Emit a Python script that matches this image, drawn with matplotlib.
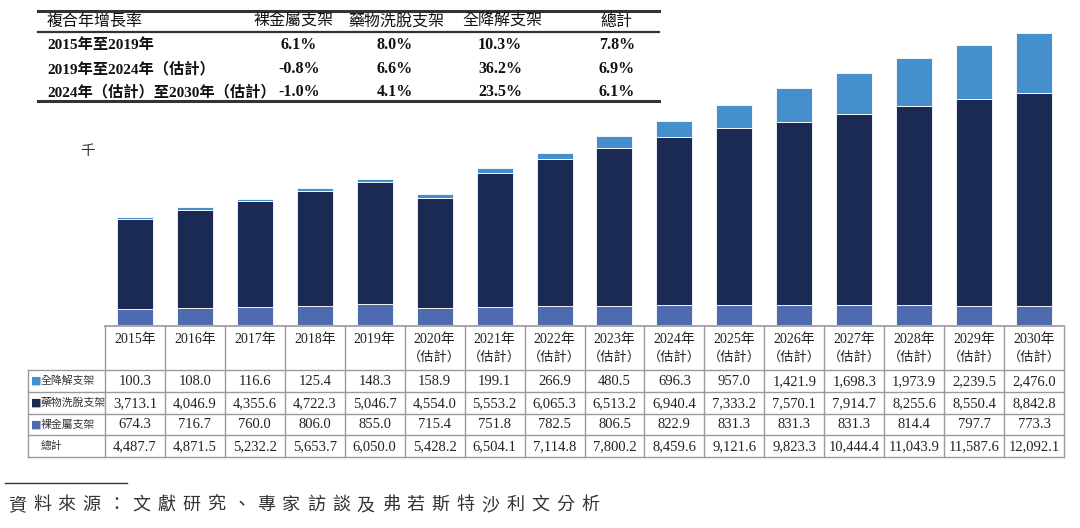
import matplotlib
matplotlib.use("Agg")
import matplotlib.pyplot as plt

# ---------------- data ----------------
years = ["2015年", "2016年", "2017年", "2018年", "2019年", "2020年", "2021年", "2022年",
         "2023年", "2024年", "2025年", "2026年", "2027年", "2028年", "2029年", "2030年"]
estimated = [False] * 5 + [True] * 11
bioresorbable = [100.3, 108.0, 116.6, 125.4, 148.3, 158.9, 199.1, 266.9,
                 480.5, 696.3, 957.0, 1421.9, 1698.3, 1973.9, 2239.5, 2476.0]
drug_eluting = [3713.1, 4046.9, 4355.6, 4722.3, 5046.7, 4554.0, 5553.2, 6065.3,
                6513.2, 6940.4, 7333.2, 7570.1, 7914.7, 8255.6, 8550.4, 8842.8]
bare_metal = [674.3, 716.7, 760.0, 806.0, 855.0, 715.4, 751.8, 782.5,
              806.5, 822.9, 831.3, 831.3, 831.3, 814.4, 797.7, 773.3]
totals = [4487.7, 4871.5, 5232.2, 5653.7, 6050.0, 5428.2, 6504.1, 7114.8,
          7800.2, 8459.6, 9121.6, 9823.3, 10444.4, 11043.9, 11587.6, 12092.1]
series_names = ["全降解支架", "藥物洗脫支架", "裸金屬支架"]
total_name = "總計"

cagr_header = ["複合年增長率", "裸金屬支架", "藥物洗脫支架", "全降解支架", "總計"]
cagr_periods = ["2015年至2019年", "2019年至2024年（估計）", "2024年（估計）至2030年（估計）"]
cagr_bare = ["6.1%", "-0.8%", "-1.0%"]
cagr_drug = ["8.0%", "6.6%", "4.1%"]
cagr_bio = ["10.3%", "36.2%", "23.5%"]
cagr_total = ["7.8%", "6.9%", "6.1%"]

unit_label = "千"
source_text = "資料來源：文獻研究、專家訪談及弗若斯特沙利文分析"

# ---------------- style ----------------
C_BIO = "#458FCC"
C_DRUG = "#1B2A52"
C_BARE = "#4F6BAF"
FAM = ["Liberation Serif", "Noto Sans CJK TC"]
CJK = ["Noto Sans CJK TC", "DejaVu Sans"]
plt.rcParams["font.family"] = FAM

W, H = 1080, 528
fig = plt.figure(figsize=(W / 100, H / 100), dpi=100)

# pixel geometry
tab_left, tab_right = 105, 1064
lab_left = 28
bar_bottom_px, bar_top_px = 325, 20
px_per_unit = (325 - 32.7) / 12092.1

ax = fig.add_axes([tab_left / W, (H - bar_bottom_px) / H,
                   (tab_right - tab_left) / W, (bar_bottom_px - bar_top_px) / H])
x = list(range(len(years)))
ax.bar(x, bare_metal, width=0.6, color=C_BARE, edgecolor="white", linewidth=0.6)
b2 = [a for a in bare_metal]
ax.bar(x, drug_eluting, width=0.6, bottom=b2, color=C_DRUG, edgecolor="white", linewidth=0.6)
b3 = [a + b for a, b in zip(bare_metal, drug_eluting)]
ax.bar(x, bioresorbable, width=0.6, bottom=b3, color=C_BIO, edgecolor="white", linewidth=0.6)
ax.set_xlim(-0.5, len(years) - 0.5)
ax.set_ylim(0, (bar_bottom_px - bar_top_px) / px_per_unit)
ax.axis("off")

# overlay in pixel coordinates
ov = fig.add_axes([0, 0, 1, 1])
ov.set_xlim(0, W)
ov.set_ylim(H, 0)
ov.axis("off")
ov.patch.set_alpha(0)

grid_c = "#9a9a9a"
col_w = (tab_right - tab_left) / len(years)
edges = [tab_left + i * col_w for i in range(len(years) + 1)]
hdr_top, hdr_bot = 326, 370
row_lines = [370, 392, 413.5, 435, 456.5]

ov.plot([tab_left, tab_right], [hdr_top, hdr_top], color=grid_c, lw=1.2)
for yl in row_lines:
    ov.plot([lab_left, tab_right], [yl, yl], color=grid_c, lw=1.0)
for i, xe in enumerate(edges):
    ov.plot([xe, xe], [hdr_top, row_lines[-1]], color=grid_c, lw=1.0)
ov.plot([lab_left, lab_left], [row_lines[0], row_lines[-1]], color=grid_c, lw=1.0)

txt_c = "#222222"
for i, (yr, est) in enumerate(zip(years, estimated)):
    cx = edges[i] + col_w / 2
    ov.text(cx, 339, yr, ha="center", va="center", fontsize=10, color=txt_c)
    if est:
        ov.text(cx, 357, "（估計）", ha="center", va="center", fontsize=9.5,
                color=txt_c, family=CJK)

rows = [bioresorbable, drug_eluting, bare_metal, totals]
row_colors = [C_BIO, C_DRUG, C_BARE, None]
row_names = series_names + [total_name]
for r, (vals, rc, nm) in enumerate(zip(rows, row_colors, row_names)):
    cy = (row_lines[r] + row_lines[r + 1]) / 2
    for i, v in enumerate(vals):
        cx = edges[i] + col_w / 2
        ov.text(cx, cy + 0.5, f"{v:,.1f}", ha="center", va="center", fontsize=10.5, color=txt_c)
    if rc is not None:
        ov.text(lab_left + 3, cy, "■", ha="left", va="center", fontsize=8, color=rc, family=["DejaVu Sans"])
    ov.text(lab_left + 13, cy, nm, ha="left", va="center", fontsize=7.8, color="#333333", family=CJK)

# unit label
ov.text(88, 151, unit_label, ha="center", va="center", fontsize=10.5, color="#333333", family=CJK)

# ---------------- CAGR table ----------------
ct_left, ct_right = 38, 659
ov.plot([ct_left, ct_right], [11, 11], color="#333333", lw=2.2)
ov.plot([ct_left, ct_right], [32, 32], color="#333333", lw=1.6)
ov.plot([ct_left, ct_right], [101, 101], color="#333333", lw=2.2)
col_cx = [None, 293, 396, 502, 616]
val_cx = [None, 299, 395, 500, 617]
ov.text(47, 21.5, cagr_header[0], ha="left", va="center", fontsize=11.5, color="#111111", family=CJK)
for j in range(1, 5):
    ov.text(col_cx[j], 21.5, cagr_header[j], ha="center", va="center", fontsize=11.5,
            color="#111111", family=CJK)
row_y = [45, 69, 92]
cols = [cagr_bare, cagr_drug, cagr_bio, cagr_total]
for r, per in enumerate(cagr_periods):
    ov.text(47, row_y[r], per, ha="left", va="center", fontsize=11, fontweight="bold", color="#111111")
    for j, colvals in enumerate(cols):
        ov.text(val_cx[j + 1], row_y[r], colvals[r], ha="center", va="center", fontsize=11.5,
                fontweight="bold", color="#111111")

# ---------------- source ----------------
ov.plot([5, 127], [483, 483], color="#333333", lw=1.0)
step = (598 - 8 - 17) / (len(source_text) - 1)
for k, ch in enumerate(source_text):
    ov.text(8 + k * step, 505, ch, ha="left", va="center", fontsize=13,
            color="#333333", family=CJK)

fig.savefig("out.png", dpi=100)
